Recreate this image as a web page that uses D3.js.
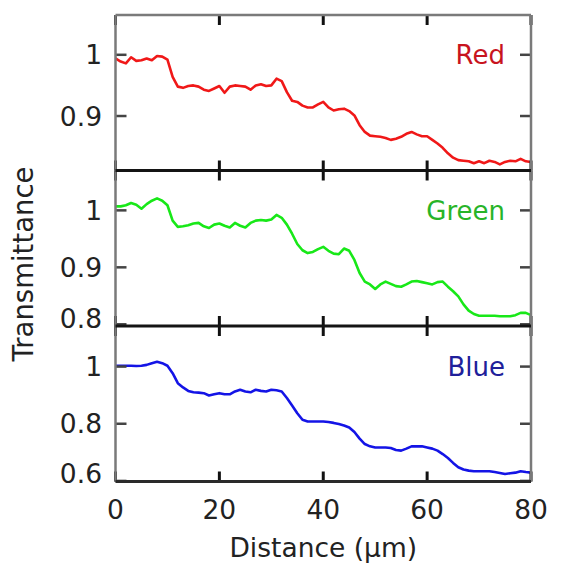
<!DOCTYPE html>
<html>
<head>
<meta charset="utf-8">
<script src="https://cdn.jsdelivr.net/npm/d3@7/dist/d3.min.js"></script>
<style>
  body { margin: 0; background: #fff; }
  text { font-family: "DejaVu Sans", sans-serif; }
</style>
</head>
<body>
<script>
// distance (um), one sample per micron
const distance = [0,1,2,3,4,5,6,7,8,9,10,11,12,13,14,15,16,17,18,19,20,21,22,23,24,25,26,27,28,29,30,
  31,32,33,34,35,36,37,38,39,40,41,42,43,44,45,46,47,48,49,50,51,52,53,54,55,56,57,58,59,60,
  61,62,63,64,65,66,67,68,69,70,71,72,73,74,75,76,77,78,79,80];

const redT = [0.994,0.989,0.986,0.996,0.990,0.991,0.994,0.991,0.998,0.997,0.992,0.964,0.948,0.946,0.949,0.950,
  0.948,0.943,0.941,0.945,0.949,0.938,0.948,0.950,0.949,0.948,0.943,0.950,0.952,0.949,0.950,
  0.961,0.957,0.939,0.925,0.923,0.917,0.914,0.914,0.919,0.923,0.914,0.909,0.911,0.912,0.908,
  0.901,0.885,0.874,0.868,0.867,0.866,0.864,0.861,0.863,0.866,0.871,0.874,0.870,0.867,0.867,
  0.861,0.855,0.848,0.839,0.832,0.828,0.827,0.826,0.823,0.826,0.823,0.827,0.825,0.821,0.825,
  0.827,0.826,0.830,0.826,0.825];

const greenT = [1.007,1.007,1.009,1.013,1.010,1.003,1.011,1.017,1.021,1.017,1.009,0.982,0.971,0.972,0.974,0.977,
  0.978,0.972,0.969,0.975,0.977,0.973,0.970,0.978,0.973,0.970,0.978,0.982,0.983,0.982,0.984,
  0.992,0.987,0.975,0.959,0.941,0.930,0.925,0.927,0.932,0.936,0.929,0.924,0.923,0.933,0.929,
  0.913,0.890,0.875,0.870,0.862,0.870,0.875,0.871,0.867,0.866,0.870,0.875,0.876,0.874,0.872,
  0.870,0.874,0.875,0.866,0.858,0.849,0.835,0.824,0.818,0.815,0.815,0.815,0.815,0.814,0.814,
  0.814,0.816,0.820,0.820,0.816];

const blueT = [1.003,1.003,1.003,1.003,1.002,1.003,1.006,1.012,1.017,1.012,1.003,0.977,0.942,0.927,0.915,0.910,
  0.909,0.907,0.899,0.903,0.907,0.903,0.903,0.913,0.919,0.913,0.910,0.919,0.915,0.913,0.919,
  0.917,0.913,0.890,0.864,0.837,0.814,0.808,0.808,0.808,0.808,0.806,0.803,0.799,0.794,0.787,
  0.771,0.748,0.729,0.721,0.717,0.717,0.717,0.715,0.708,0.706,0.713,0.721,0.721,0.721,0.717,
  0.713,0.706,0.694,0.680,0.663,0.648,0.640,0.636,0.634,0.634,0.634,0.634,0.631,0.628,0.624,
  0.627,0.629,0.634,0.631,0.629];

const seriesNames = ["Red", "Green", "Blue"];
const seriesData = [redT, greenT, blueT];
const yDomains = [[0.811, 1.065], [0.797, 1.07], [0.598, 1.142]];
const yTickVals = [[0.9, 1], [0.8, 0.9, 1], [0.6, 0.8, 1]];
const xTickVals = [0, 20, 40, 60, 80];

const lineColors = ["#f01818", "#18e818", "#1414e6"];
const labelColors = ["#c8141e", "#28b428", "#20209a"];

const W = 564, H = 563;
const left = 115.5, right = 531;
const panelTop = 15, panelH = 155.5;

let svg = d3.select("body").append("svg")
  .attr("width", W).attr("height", H);

let x = d3.scaleLinear().domain([0, 80]).range([left, right]);

seriesNames.forEach((name, i) => {
  let top = panelTop + i * panelH;
  let bottom = top + panelH;
  let y = d3.scaleLinear().domain(yDomains[i]).range([bottom, top]);
  let g = svg.append("g");

  // curve
  let line = d3.line().x((d, k) => x(distance[k])).y(d => y(d));
  g.append("path")
    .datum(seriesData[i])
    .attr("fill", "none")
    .attr("stroke", lineColors[i])
    .attr("stroke-width", 2.6)
    .attr("stroke-linejoin", "round")
    .attr("d", line);

  // y ticks, inside, both sides
  yTickVals[i].forEach(v => {
    g.append("line").attr("x1", left).attr("x2", left + 11)
      .attr("y1", y(v)).attr("y2", y(v)).attr("stroke", "#444").attr("stroke-width", 2.5);
    g.append("line").attr("x1", right - 11).attr("x2", right)
      .attr("y1", y(v)).attr("y2", y(v)).attr("stroke", "#444").attr("stroke-width", 2.5);
    g.append("text")
      .attr("x", 102)
      .attr("y", Math.min(y(v), bottom - 8))
      .attr("dy", "0.36em")
      .attr("text-anchor", "end")
      .attr("font-size", 26.5)
      .attr("fill", "#222")
      .text(v === 1 ? "1" : d3.format(".1f")(v));
  });

  // x ticks at top and bottom, inside
  xTickVals.forEach(v => {
    g.append("line").attr("x1", x(v)).attr("x2", x(v))
      .attr("y1", top).attr("y2", top + 10).attr("stroke", "#111").attr("stroke-width", 3);
    g.append("line").attr("x1", x(v)).attr("x2", x(v))
      .attr("y1", bottom - 10).attr("y2", bottom).attr("stroke", "#111").attr("stroke-width", 3);
  });

  // series label
  g.append("text")
    .attr("x", 505)
    .attr("y", y(1))
    .attr("dy", "0.36em")
    .attr("text-anchor", "end")
    .attr("font-size", 26)
    .attr("fill", labelColors[i])
    .text(name);
});

// frame: grey sides and top, dark separators
let fullBottom = panelTop + 3 * panelH;
svg.append("line").attr("x1", left).attr("x2", left).attr("y1", panelTop).attr("y2", fullBottom)
  .attr("stroke", "#7a7a7a").attr("stroke-width", 2.5);
svg.append("line").attr("x1", right).attr("x2", right).attr("y1", panelTop).attr("y2", fullBottom)
  .attr("stroke", "#7a7a7a").attr("stroke-width", 2.5);
svg.append("line").attr("x1", left).attr("x2", right).attr("y1", panelTop).attr("y2", panelTop)
  .attr("stroke", "#7a7a7a").attr("stroke-width", 2.5);
[1, 2, 3].forEach(k => {
  svg.append("line").attr("x1", left).attr("x2", right)
    .attr("y1", panelTop + k * panelH).attr("y2", panelTop + k * panelH)
    .attr("stroke", k === 3 ? "#2a2a2a" : "#141414").attr("stroke-width", 2.8);
});

// x tick labels (bottom panel only)
svg.append("g").selectAll("text")
  .data(xTickVals)
  .enter()
  .append("text")
  .attr("x", d => x(d))
  .attr("y", 509)
  .attr("dy", "0.36em")
  .attr("text-anchor", "middle")
  .attr("font-size", 26.5)
  .attr("fill", "#222")
  .text(d => d);

// axis titles
svg.append("text")
  .attr("x", (left + right) / 2)
  .attr("y", 547)
  .attr("dy", "0.36em")
  .attr("text-anchor", "middle")
  .attr("font-size", 26.5)
  .attr("fill", "#222")
  .text("Distance (μm)");

svg.append("text")
  .attr("transform", "translate(23,264) rotate(-90)")
  .attr("dy", "0.36em")
  .attr("text-anchor", "middle")
  .attr("font-size", 27.5)
  .attr("fill", "#222")
  .text("Transmittance");
</script>
</body>
</html>
